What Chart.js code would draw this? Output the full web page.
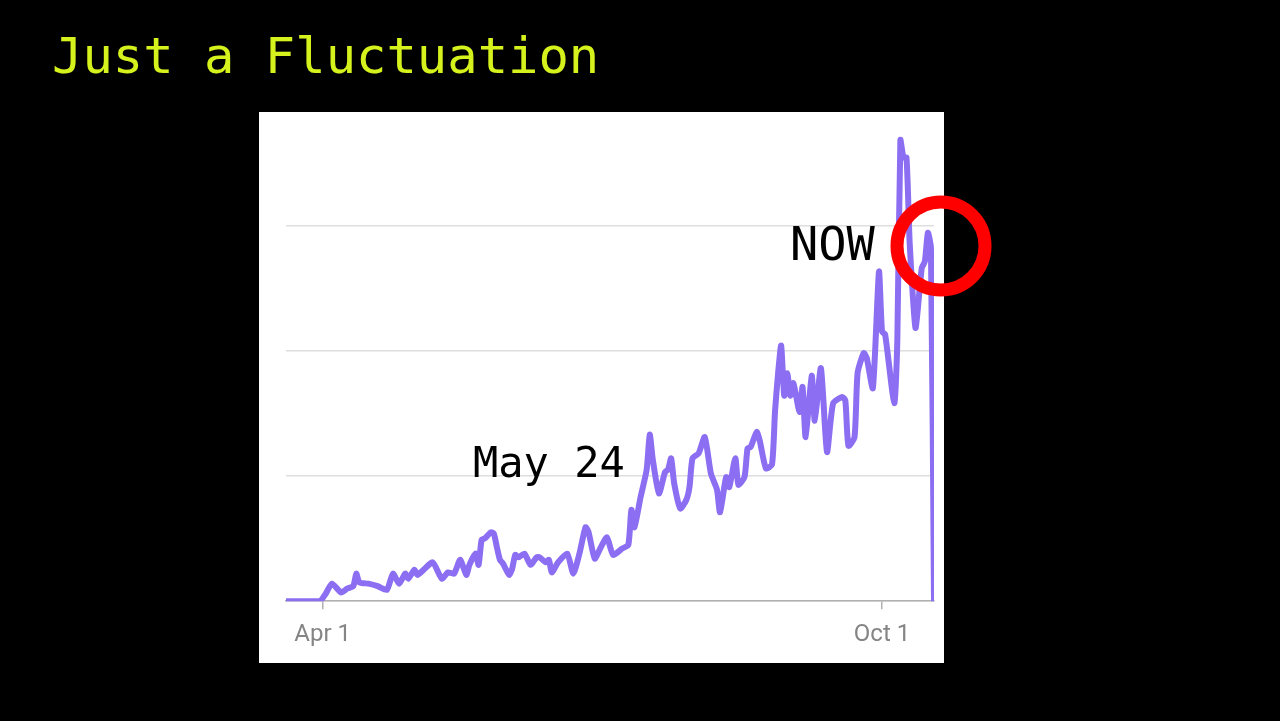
<!DOCTYPE html>
<html>
<head>
<meta charset="utf-8">
<title>Just a Fluctuation</title>
<script src="https://cdn.jsdelivr.net/npm/chart.js@4.4.1/dist/chart.umd.min.js"></script>
<style>
  html, body { margin: 0; padding: 0; background: #000; }
  body { width: 1280px; height: 721px; overflow: hidden; position: relative; }
  #chart { position: absolute; left: 0; top: 0; }
</style>
</head>
<body>
<canvas id="chart" width="1280" height="721"></canvas>
<script>
// days counted from Apr 1
const days = [
  -12, -1, 1, 3, 6, 8, 10, 11, 12, 15,
  18, 21, 23, 25, 27, 28, 30, 31, 33, 36,
  39, 41, 43, 45, 47, 48, 50, 51, 52, 53,
  55, 56, 57, 58, 59, 61, 62, 63, 64, 66,
  68, 70, 71, 73, 74, 75, 77, 80, 82, 84,
  86, 87, 89, 91, 93, 95, 98, 100, 101, 102,
  104, 106, 107, 108, 110, 112, 113, 114, 115, 117,
  119, 120, 121, 123, 125, 127, 129, 130, 132, 133,
  135, 136, 138, 139, 140, 142, 143, 145, 147, 148,
  149, 150, 151, 152, 153, 154, 156, 157, 158, 160,
  161, 163, 165, 167, 170, 171, 172, 174, 175, 177,
  178, 180, 182, 183, 184, 187, 188, 189, 190, 191,
  192, 193, 194, 196, 197, 198, 199, 200
];
const values = [
  0, 0, 6, 14, 7, 10, 12, 22, 15, 14,
  12, 9, 22, 14, 22, 18, 25, 21, 25, 31,
  18, 23, 22, 33, 21, 29, 38, 29, 49, 50,
  55, 54, 43, 33, 30, 21, 26, 37, 35, 38,
  29, 35, 35, 31, 33, 23, 31, 38, 22, 38,
  59, 55, 34, 43, 51, 37, 42, 45, 73, 59,
  83, 105, 133, 113, 86, 103, 105, 114, 94, 74,
  81, 91, 114, 118, 131, 102, 89, 71, 99, 91,
  114, 93, 99, 122, 123, 135, 128, 106, 109, 152,
  182, 204, 164, 182, 164, 174, 151, 171, 131, 180,
  144, 186, 119, 158, 163, 160, 124, 131, 182, 198,
  194, 170, 263, 215, 213, 158, 208, 368, 354, 354,
  288, 246, 218, 266, 271, 294, 282, 0
];
const tickDays = [0, 183];
const tickLabels = ['Apr 1', 'Oct 1'];

const titleText = 'Just a Fluctuation';
const notes = ['May 24', 'NOW'];

// white panel, headline, notes and the red ring
const slidePlugin = {
  id: 'slide',
  beforeDraw(chart) {
    const c = chart.ctx;
    c.save();
    c.fillStyle = '#000';
    c.fillRect(0, 0, chart.width, chart.height);
    c.fillStyle = '#fff';
    c.fillRect(259, 112, 685, 551);
    c.fillStyle = '#d6f21d';
    c.font = '50.5px "DejaVu Sans Mono", monospace';
    c.textBaseline = 'alphabetic';
    c.fillText(titleText, 52, 73);
    c.restore();
  },
  afterDraw(chart) {
    const c = chart.ctx;
    c.save();
    c.fillStyle = '#000';
    c.textBaseline = 'alphabetic';
    c.font = '42px "DejaVu Sans Mono", monospace';
    c.fillText(notes[0], 473, 477);
    c.font = '47px "DejaVu Sans Mono", monospace';
    c.fillText(notes[1], 790, 260);
    c.beginPath();
    c.arc(941, 246, 44, 0, Math.PI * 2);
    c.lineWidth = 13;
    c.strokeStyle = '#ff0000';
    c.stroke();
    c.restore();
  }
};

new Chart(document.getElementById('chart'), {
  type: 'line',
  data: {
    datasets: [{
      data: days.map((d, i) => ({ x: d, y: values[i] })),
      borderColor: '#8b6ef2',
      borderWidth: 6,
      pointRadius: 0,
      tension: 0.2,
      borderJoinStyle: 'round',
      borderCapStyle: 'round',
      fill: false
    }]
  },
  options: {
    responsive: false,
    animation: false,
    devicePixelRatio: 1,
    layout: {
      padding: { left: 286, right: 346, top: 125, bottom: 61 }
    },
    plugins: {
      legend: { display: false },
      tooltip: { enabled: false }
    },
    scales: {
      x: {
        type: 'linear',
        min: -12,
        max: 200,
        afterBuildTicks: (scale) => {
          scale.ticks = tickDays.map(v => ({ value: v }));
        },
        ticks: {
          autoSkip: false,
          maxRotation: 0,
          padding: 11,
          color: '#858585',
          font: { family: 'Roboto, "Liberation Sans", sans-serif', size: 24 },
          callback: (v) => tickLabels[tickDays.indexOf(v)]
        },
        grid: {
          drawOnChartArea: false,
          drawTicks: true,
          tickLength: 8,
          color: '#b0b0b0',
          lineWidth: 1.5
        },
        border: { display: true, color: '#b0b0b0', width: 1.5 }
      },
      y: {
        min: 0,
        max: 380,
        ticks: { display: false, stepSize: 100, includeBounds: false },
        grid: { drawTicks: false, color: '#dedede', lineWidth: 1.5 },
        border: { display: false }
      }
    }
  },
  plugins: [slidePlugin]
});
</script>
</body>
</html>
